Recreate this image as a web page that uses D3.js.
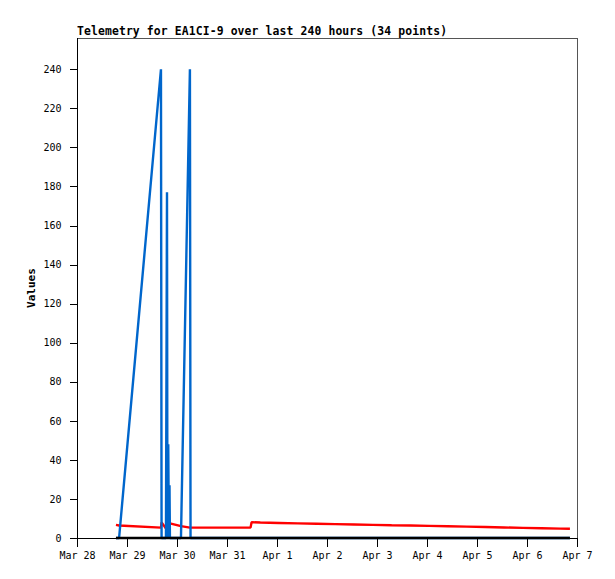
<!DOCTYPE html>
<html><head><meta charset="utf-8">
<script src="https://cdn.jsdelivr.net/npm/d3@7"></script>
<style>
html,body{margin:0;padding:0;background:#fff;}
svg{display:block;}
text{font-family:"DejaVu Sans Mono","Liberation Mono",monospace;}
</style></head>
<body><svg id="c" width="615" height="579"></svg>
<script>
const title = "Telemetry for EA1CI-9 over last 240 hours (34 points)";
const yLabel = "Values";
const xStart = "2014-03-28T00:00Z", xEnd = "2014-04-07T00:00Z";
const yTicks = [0,20,40,60,80,100,120,140,160,180,200,220,240];
const times = [
 "2014-03-28T18:42Z","2014-03-28T20:12Z","2014-03-29T16:18Z","2014-03-29T16:36Z",
 "2014-03-29T18:42Z","2014-03-29T19:12Z","2014-03-29T19:24Z","2014-03-29T19:48Z",
 "2014-03-29T20:06Z","2014-03-29T20:24Z","2014-03-29T20:36Z","2014-03-30T01:54Z",
 "2014-03-30T06:12Z","2014-03-30T06:30Z","2014-03-31T11:18Z","2014-03-31T11:48Z",
 "2014-03-31T16:00Z","2014-04-01T01:00Z","2014-04-01T10:00Z","2014-04-01T19:00Z",
 "2014-04-02T04:00Z","2014-04-02T13:00Z","2014-04-02T22:00Z","2014-04-03T07:00Z",
 "2014-04-03T16:00Z","2014-04-04T01:00Z","2014-04-04T10:00Z","2014-04-04T19:00Z",
 "2014-04-05T04:00Z","2014-04-05T13:00Z","2014-04-05T22:00Z","2014-04-06T07:00Z",
 "2014-04-06T16:00Z","2014-04-06T20:36Z"];
const redValues = [6.7,6.4,5.3,8.0,4.9,5.6,6.2,6.8,7.1,7.4,7.5,6.1,5.3,5.3,5.3,8.1,
 7.9,7.7,7.5,7.3,7.1,6.9,6.7,6.5,6.4,6.2,6.0,5.8,5.6,5.4,5.2,5.0,4.8,4.7];
const blueValues = [0,0,240,0,0,177,0,48,0,27,0,0,240,0,0,0,
 0,0,0,0,0,0,0,0,0,0,0,0,0,0,0,0,0,0];
const blackValues = [0,0,0,0,0,0,0,0,0,0,0,0,0,0,0,0,
 0,0,0,0,0,0,0,0,0,0,0,0,0,0,0,0,0,0];
const seriesOrder = [
  {values: redValues, color: "#ff0000"},
  {values: blueValues, color: "#0066cc"},
  {values: blackValues, color: "#000000"}
];

const svg = d3.select("#c");
const L = 77, R = 577, T = 38, B = 538;
const x = d3.scaleUtc().domain([new Date(xStart), new Date(xEnd)]).range([L, R]);
const y = d3.scaleLinear().domain([0, 256]).range([B, T]);
const dates = times.map(t => new Date(t));

// frame
svg.append("rect").attr("x", L + 0.5).attr("y", T + 0.5).attr("width", R - L).attr("height", B - T)
  .attr("fill", "none").attr("stroke", "#555").attr("stroke-width", 1).attr("shape-rendering","crispEdges");

// title
svg.append("text").attr("x", L).attr("y", 35).attr("font-size", "11.4px").attr("font-weight", "bold")
  .attr("textLength", 370).attr("lengthAdjust", "spacing")
  .attr("fill", "#000").text(title);

// series
const line = d3.line().x((d, i) => x(dates[i])).y(d => y(d));
seriesOrder.forEach(s => {
  svg.append("path").datum(s.values).attr("d", line).attr("fill", "none")
    .attr("stroke", s.color).attr("stroke-width", 2.4).attr("stroke-linejoin", "bevel");
});

// y axis
const ya = d3.axisLeft(y).tickValues(yTicks).tickSize(8).tickPadding(8).tickFormat(d3.format("d"));
const gy = svg.append("g").attr("transform", `translate(${L + 0.5},0)`).call(ya);
gy.select(".domain").attr("d", `M0,${T}V${B + 0.5}`).attr("stroke", "#000").attr("shape-rendering","crispEdges");
gy.selectAll(".tick line").attr("stroke", "#000").attr("shape-rendering","crispEdges");
gy.selectAll(".tick text").attr("font-family", "DejaVu Sans Mono").attr("font-size", "10px").attr("fill", "#000");

// x axis
const xa = d3.axisBottom(x).ticks(d3.utcDay.every(1)).tickSize(8).tickPadding(5).tickFormat(d3.utcFormat("%b %-d"));
const gx = svg.append("g").attr("transform", `translate(0,${B + 0.5})`).call(xa);
gx.select(".domain").attr("d", `M${L},0H${R + 0.5}`).attr("stroke", "#000").attr("shape-rendering","crispEdges");
gx.selectAll(".tick line").attr("stroke", "#000").attr("shape-rendering","crispEdges");
gx.selectAll(".tick text").attr("font-family", "DejaVu Sans Mono").attr("font-size", "10px").attr("fill", "#000");

// y label
svg.append("text").attr("transform", `translate(35,${(T + B) / 2}) rotate(-90)`)
  .attr("text-anchor", "middle").attr("font-size", "11px").attr("font-weight", "bold").text(yLabel);
</script></body></html>
